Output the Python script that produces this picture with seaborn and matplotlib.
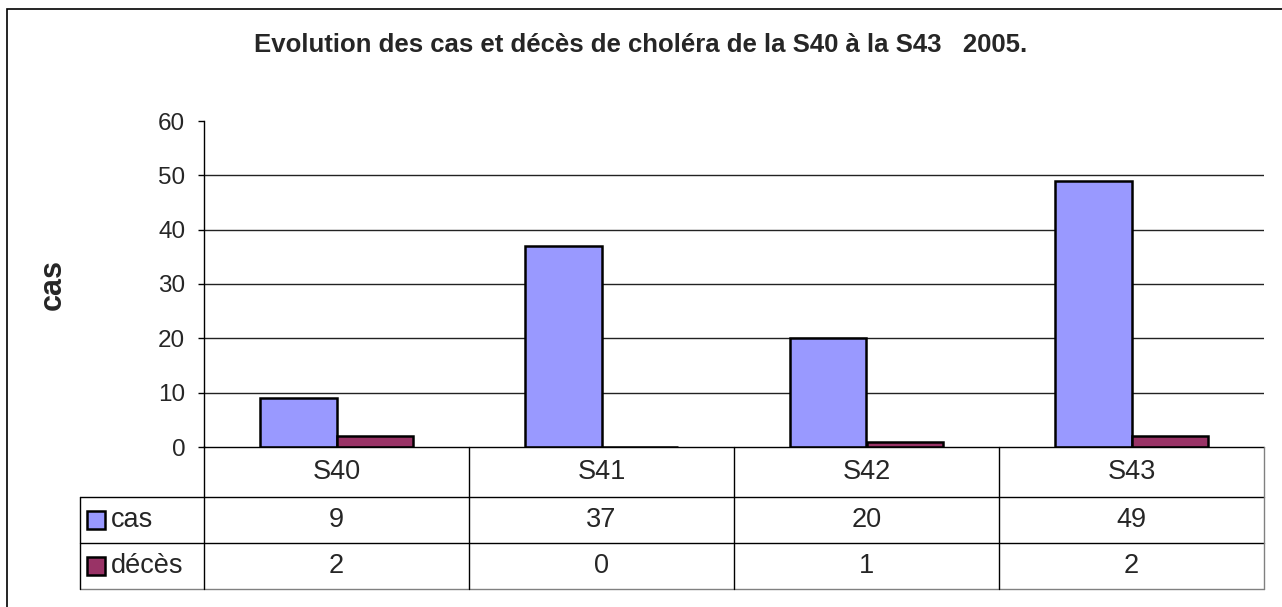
import matplotlib
matplotlib.use("Agg")
import matplotlib.pyplot as plt
import seaborn as sns
import pandas as pd
from matplotlib.patches import Rectangle
from matplotlib.lines import Line2D

categories = ["S40", "S41", "S42", "S43"]
cas = [9, 37, 20, 49]
deces = [2, 0, 1, 2]
series_names = ["cas", "décès"]
colors = ["#9999FF", "#993366"]
title = "Evolution des cas et décès de choléra de la S40 à la S43   2005."
ylabel = "cas"
yticks = [0, 10, 20, 30, 40, 50, 60]

df = pd.DataFrame({
    "semaine": categories * 2,
    "valeur": cas + deces,
    "serie": [series_names[0]] * len(categories) + [series_names[1]] * len(categories),
})

sns.set_style("white")
plt.rcParams["font.family"] = ["Liberation Sans", "DejaVu Sans"]

W, H = 1282, 607
fig = plt.figure(figsize=(W / 100, H / 100), dpi=100)

def fx(px):
    return px / W

def fy(py):
    return 1 - py / H

left, right, top, bottom = 204, 1264, 121, 447
ax = fig.add_axes([fx(left), fy(bottom), fx(right - left), (bottom - top) / H])

sns.barplot(data=df, x="semaine", y="valeur", hue="serie", order=categories,
            hue_order=series_names, palette=colors, width=0.574, gap=0,
            edgecolor="black", linewidth=1.8, ax=ax, legend=False, saturation=1)

ax.set_ylim(0, 60)
ax.set_xlim(-0.5, len(categories) - 0.5)
ax.set_yticks(yticks)
ax.set_yticklabels([str(t) for t in yticks], fontsize=17.5)
ax.tick_params(axis="y", length=4.5, width=1, color="black", pad=9, direction="out", left=True)
ax.tick_params(axis="x", bottom=False, labelbottom=False)
ax.set_xlabel("")
ax.set_ylabel("")
for s in ["top", "right", "bottom"]:
    ax.spines[s].set_visible(False)
ax.spines["left"].set_color("black")
ax.spines["left"].set_linewidth(1)
ax.set_axisbelow(True)
for t in yticks[1:-1]:
    ax.axhline(t, color="#222222", linewidth=1, zorder=0)

fig.text(fx(53), fy(284), ylabel, rotation=90, ha="center", va="center",
         fontsize=22, fontweight="bold")

fig.text(0.5, fy(45), title, ha="center", va="center", fontsize=18.5, fontweight="bold")

row_lines = [447, 497, 543, 589]
tbl_left = 80
col_w = (right - left) / len(categories)
col_x = [left + i * col_w for i in range(len(categories) + 1)]
tfs = 19.5

def hline(x0, x1, y, color="black"):
    fig.add_artist(Line2D([fx(x0), fx(x1)], [fy(y), fy(y)], color=color, lw=1))

def vline(x, y0, y1, color="black"):
    fig.add_artist(Line2D([fx(x), fx(x)], [fy(y0), fy(y1)], color=color, lw=1))

hline(left, right, row_lines[0])
hline(tbl_left, right, row_lines[1])
hline(tbl_left, right, row_lines[2])
hline(tbl_left, right, row_lines[3], color="#808080")
for i, x in enumerate(col_x):
    vline(x, row_lines[0] if i > 0 else row_lines[0] - 1, row_lines[3],
          color="#808080" if i == len(col_x) - 1 else "black")
vline(tbl_left, row_lines[1], row_lines[3])

cat_y = (row_lines[0] + row_lines[1]) / 2
for i, c in enumerate(categories):
    fig.text(fx(col_x[i] + col_w / 2), fy(cat_y), c, ha="center", va="center", fontsize=tfs)

for r, (name, vals, col) in enumerate(zip(series_names, [cas, deces], colors)):
    yc = (row_lines[r + 1] + row_lines[r + 2]) / 2
    fig.add_artist(Rectangle((fx(87), fy(yc + 9)), fx(18), 18 / H, facecolor=col,
                             edgecolor="black", linewidth=1.8))
    fig.text(fx(111), fy(yc), name, ha="left", va="center", fontsize=tfs)
    for i, v in enumerate(vals):
        fig.text(fx(col_x[i] + col_w / 2), fy(yc), str(v), ha="center", va="center", fontsize=tfs)

fig.add_artist(Rectangle((fx(7), fy(620)), fx(1290), 611 / H, fill=False,
                         edgecolor="black", linewidth=1.2))

fig.savefig("out.png", dpi=100)
